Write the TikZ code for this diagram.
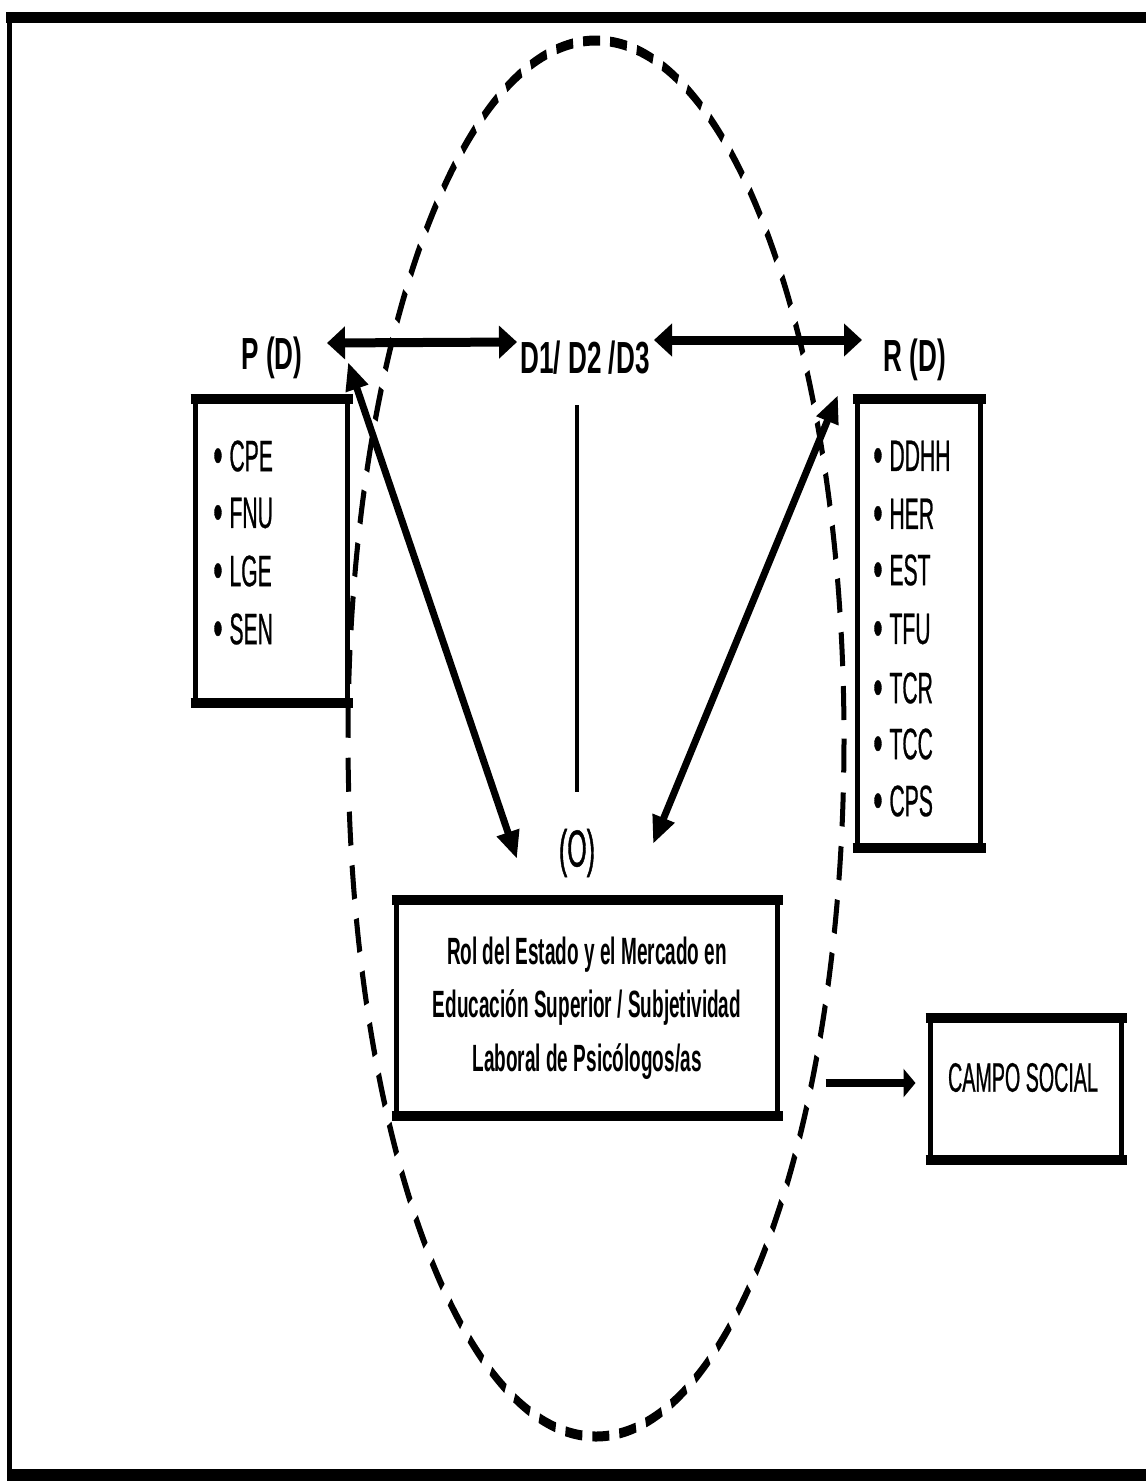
\documentclass[tikz,border=0pt]{standalone}
\usepackage{fontspec}
\setmainfont{Liberation Sans}
\newfontfamily\fnarrow[FakeStretch=0.48,FakeBold=0.6]{Liberation Sans}
\newfontfamily\flab[FakeStretch=0.58]{Liberation Sans}
\newfontfamily\fcenter[FakeStretch=0.5]{Liberation Sans}
\newfontfamily\fobj[FakeStretch=0.48,FakeBold=0.8]{Liberation Sans}
\newcommand\blt{\raisebox{-1.2pt}{\fontsize{27}{27}\selectfont •}\hspace{3.5pt}}
\usetikzlibrary{arrows.meta,calc}
\begin{document}
\begin{tikzpicture}[x=0.5pt,y=-0.5pt,
  lab/.style={font=\flab\bfseries\fontsize{22.5}{26}\selectfont, inner sep=0pt},
  item/.style={font=\fnarrow\fontsize{22}{25}\selectfont, inner sep=0pt, anchor=west},
  boxshape/.style={draw, line width=2.5pt, inner sep=0pt},
  thickedge/.style={line width=5pt},
  harrow/.style={line width=4.5pt, {Triangle[length=9pt,width=16pt]}-{Triangle[length=9pt,width=16pt]}},
  darrow/.style={line width=3.5pt, {Triangle[length=14pt,width=11pt]}-{Triangle[length=14pt,width=11pt]}},
  sarrow/.style={line width=4pt, -{Triangle[length=6pt,width=14pt]}},
  dashring/.style={line width=2.5pt, dash pattern=on 8.5pt off 5pt},
]
\useasboundingbox (0,0) rectangle (1146,1483);
% frame (top, left, bottom)
\draw[line width=5.5pt] (6,17.5) -- (1146,17.5);
\draw[line width=2.5pt] (9.5,12) -- (9.5,1481);
\draw[line width=6pt] (7,1475) -- (1146,1475);
% dashed ellipse (drawn in a vertically stretched canvas, like the reference)
\begin{scope}[transform canvas={yscale=2}]
\draw[dashring] (596,369.25) ellipse [x radius=248, y radius=349];
\end{scope}

% labels
\node[lab] (plab) at (272,358) {P (D)};
\node[lab] (dlab) at (585,358) {D1/ D2 /D3};
\node[lab] (rlab) at (915,360) {R (D)};
\node[font=\fobj\fontsize{26}{28}\selectfont, inner sep=0pt] (olab) at (577,853) {(O)};

% left box
\node[boxshape, minimum width=76pt, minimum height=149.25pt] (pbox) at (271.5,550.75) {};
\draw[thickedge] ($(pbox.north west)+(-2.5,0)$) -- ($(pbox.north east)+(2.5,0)$);
\draw[thickedge] ($(pbox.south west)+(-2.5,0)$) -- ($(pbox.south east)+(2.5,0)$);
\node[item] (p1) at (213,457) {\blt CPE};
\node[item] (p2) at (213,514) {\blt FNU};
\node[item] (p3) at (213,572) {\blt LGE};
\node[item] (p4) at (213,630) {\blt SEN};

% right box
\node[boxshape, minimum width=61.5pt, minimum height=221.75pt] (rbox) at (919,623.25) {};
\draw[thickedge] ($(rbox.north west)+(-2.5,0)$) -- ($(rbox.north east)+(2.5,0)$);
\draw[thickedge] ($(rbox.south west)+(-2.5,0)$) -- ($(rbox.south east)+(2.5,0)$);
\node[item] (r1) at (873,457) {\blt DDHH};
\node[item] (r2) at (873,515) {\blt HER};
\node[item] (r3) at (873,571) {\blt EST};
\node[item] (r4) at (873,630) {\blt TFU};
\node[item] (r5) at (873,689) {\blt TCR};
\node[item] (r6) at (873,745) {\blt TCC};
\node[item] (r7) at (873,802) {\blt CPS};

% central box
\node[boxshape, minimum width=190.5pt, minimum height=105.25pt,
      font=\fcenter\bfseries\fontsize{19}{26.75}\selectfont, align=center] (obox) at (587,1007.75)
  {Rol del Estado y el Mercado en\\Educación Superior / Subjetividad\\Laboral de Psicólogos/as};
\draw[thickedge] ($(obox.north west)+(-2.5,0)$) -- ($(obox.north east)+(2.5,0)$);
\draw[thickedge] ($(obox.south west)+(-2.5,0)$) -- ($(obox.south east)+(2.5,0)$);

% campo social box
\node[boxshape, minimum width=95.5pt, minimum height=68.5pt] (cbox) at (1026,1088.5) {};
\draw[thickedge] ($(cbox.north west)+(-2.5,0)$) -- ($(cbox.north east)+(2.5,0)$);
\draw[thickedge] ($(cbox.south west)+(-2.5,0)$) -- ($(cbox.south east)+(2.5,0)$);
\node[font=\fnarrow\fontsize{20.5}{24}\selectfont, inner sep=0pt] (ctext) at ($(cbox.center)+(-3,-11)$) {CAMPO SOCIAL};

% connectors
\draw[harrow] ($(plab.center)+(55,-15)$) -- ($(dlab.center)+(-68,-16)$);
\draw[harrow] ($(dlab.center)+(69,-18)$) -- ($(rlab.center)+(-53,-20)$);
\draw[darrow] ($(plab.center)+(76,4)$) -- ($(olab.center)+(-60,6)$);
\draw[darrow] ($(rlab.center)+(-77,35)$) -- ($(olab.center)+(76,-9)$);
\draw[line width=2pt] ($(dlab.center)+(-8,47)$) -- ($(olab.center)+(0,-61)$);
\draw[sarrow] ($(obox.east)+(45.5,75.25)$) -- ($(cbox.west)+(-12.5,-5.5)$);
\end{tikzpicture}
\end{document}
